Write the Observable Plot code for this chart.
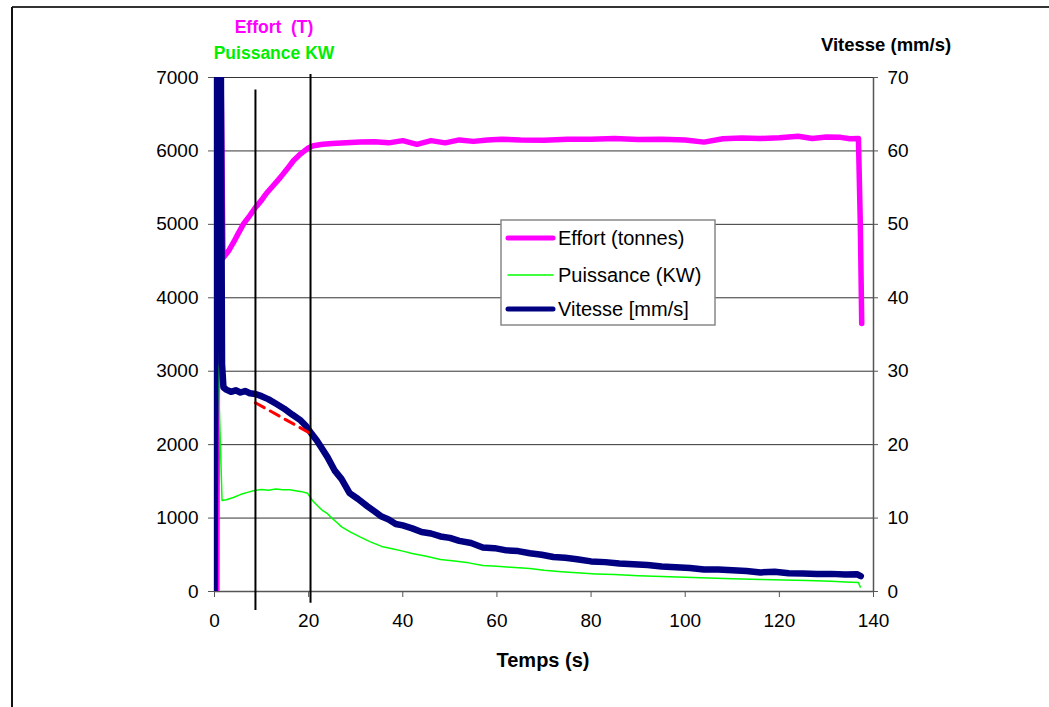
<!DOCTYPE html>
<html><head><meta charset="utf-8">
<script src="https://cdn.jsdelivr.net/npm/d3@7"></script>
<script src="https://cdn.jsdelivr.net/npm/@observablehq/plot@0.6"></script>
<style>
body{margin:0;background:#fff;}
#chart{width:1049px;height:707px;}
</style>
</head><body><div id="chart"></div>
<script>
// ---- tick labels ----
const timeTicks = [0, 20, 40, 60, 80, 100, 120, 140];
const leftTicks = [0, 1000, 2000, 3000, 4000, 5000, 6000, 7000];
const rightTickLabels = [0, 10, 20, 30, 40, 50, 60, 70];

// ---- Effort (tonnes), left axis ----
const effortT = [0.5, 0.8, 1.3, 1.8, 3, 4, 5, 6.2, 7.5, 8.7, 10, 11, 12.5, 14, 15.5, 16.8, 18.3, 19.8, 21, 23, 25, 28, 31, 34, 37, 40, 43, 46, 49, 52, 55, 58, 61, 65, 70, 75, 80, 85, 90, 95, 100, 104, 108, 112, 116, 120, 124, 127, 130, 133, 135, 136.8, 137.2, 137.5];
const effortV = [0, 7600, 7600, 4540, 4640, 4750, 4870, 5010, 5120, 5230, 5330, 5420, 5530, 5640, 5760, 5870, 5960, 6035, 6070, 6090, 6100, 6110, 6120, 6125, 6110, 6140, 6090, 6140, 6110, 6150, 6130, 6150, 6160, 6150, 6145, 6160, 6160, 6170, 6155, 6160, 6150, 6120, 6165, 6175, 6170, 6180, 6200, 6170, 6190, 6185, 6165, 6170, 5000, 3650];

// ---- Puissance (KW), left axis ----
const puisT = [0, 0.5, 0.75, 1.6, 2.5, 4, 5.5, 7, 8.5, 10, 11.5, 13, 14.5, 16, 17.5, 18.5, 19.8, 20.8, 22, 23, 24, 25, 26, 27, 29, 31, 33, 35.5, 38, 40, 42, 45, 48, 51, 54, 57, 60, 63, 67, 70, 73.7, 77, 81, 85, 90, 95, 100, 105, 110, 116, 121, 126, 131, 134, 136.8, 137.2];
const puisV = [0, 4600, 3100, 1240, 1250, 1280, 1320, 1350, 1375, 1390, 1380, 1395, 1385, 1385, 1370, 1360, 1337, 1240, 1160, 1100, 1060, 996, 940, 880, 805, 740, 680, 614, 580, 550, 518, 480, 436, 415, 390, 355, 345, 330, 314, 290, 270, 255, 240, 230, 215, 205, 195, 185, 175, 164, 155, 150, 140, 130, 123, 60];

// ---- Vitesse (mm/s), right axis ----
const vitT = [0, 0.5, 1.3, 1.6, 1.9, 2.5, 3.5, 4.5, 5.5, 6.5, 7.5, 8.7, 10, 11.4, 13, 14.8, 16.5, 18.3, 19.5, 20.6, 21.7, 22.8, 24, 25.5, 27, 28.7, 30.5, 32.5, 34, 35.5, 37, 38.5, 40, 42, 44, 46, 48, 50, 52, 54.5, 57, 59.5, 62, 64.5, 67, 69.5, 72, 74.5, 77, 80, 83, 86, 89, 92, 95, 98, 101, 104, 107, 110, 113, 116, 119, 122, 125, 128, 131, 134, 136.5, 137.3];
const vitV = [0, 80, 80, 31, 27.8, 27.5, 27.2, 27.4, 27.1, 27.3, 27.0, 26.9, 26.6, 26.2, 25.6, 24.9, 24.1, 23.3, 22.5, 21.5, 20.6, 19.5, 18.3, 16.5, 15.3, 13.4, 12.6, 11.6, 10.9, 10.2, 9.8, 9.2, 9.0, 8.6, 8.1, 7.9, 7.5, 7.3, 6.9, 6.6, 6.0, 5.9, 5.6, 5.5, 5.2, 5.0, 4.7, 4.6, 4.4, 4.1, 4.0, 3.8, 3.7, 3.6, 3.4, 3.3, 3.2, 3.0, 3.0, 2.9, 2.8, 2.6, 2.7, 2.5, 2.45, 2.4, 2.4, 2.3, 2.35, 2.1];

// ---- annotations (left-axis units) ----
const redT = [8.7, 20.2];
const redV = [2570, 2160];
const vlineT = [8.7, 20.4];
const vlineTop = [6830, 7040];
const vlineBottom = [-260, -160];

// secondary axis factor: 70 mm/s <-> 7000
const vScale = 100;

const effort = effortT.map((t, i) => ({t, v: effortV[i]}));
const puis = puisT.map((t, i) => ({t, v: puisV[i]}));
const vit = vitT.map((t, i) => ({t, v: vitV[i] * vScale}));
const red = redT.map((t, i) => ({t, v: redV[i]}));
const vlines = vlineT.map((t, i) => ({t, y1: vlineBottom[i], y2: vlineTop[i]}));

const svg = Plot.plot({
  width: 1049,
  height: 707,
  marginLeft: 214,
  marginRight: 176,
  marginTop: 77,
  marginBottom: 116,
  x: {domain: [0, 140]},
  y: {domain: [0, 7000]},
  style: {fontFamily: "'Liberation Sans', Arial, sans-serif", fontSize: "19px", color: "#000", background: "#fff", overflow: "visible"},
  marks: [
    Plot.ruleY(leftTicks.slice(1), {stroke: "#333", strokeWidth: 1}),
    Plot.ruleX([0, 140], {stroke: "#555", strokeWidth: 1.5}),
    Plot.ruleY([0], {stroke: "#555", strokeWidth: 1.5}),
    Plot.axisX({ticks: timeTicks, tickFormat: d => String(d), tickSize: 6, tickPadding: 16, label: null, stroke: "#555"}),
    Plot.axisY({anchor: "left", ticks: leftTicks, tickFormat: d => String(d), tickSize: 6, tickPadding: 10, label: null, stroke: "#555"}),
    Plot.axisY({anchor: "right", ticks: leftTicks, tickFormat: d => String(rightTickLabels[leftTicks.indexOf(d)]), tickSize: 4, tickPadding: 10, label: null, stroke: "#555"}),
    Plot.line(effort, {x: "t", y: "v", stroke: "#FF00FF", strokeWidth: 5.5, clip: true}),
    Plot.line(puis, {x: "t", y: "v", stroke: "#00FF00", strokeWidth: 1.5, clip: true}),
    Plot.line(vit, {x: "t", y: "v", stroke: "#000080", strokeWidth: 6.5, clip: true}),
    Plot.line(red, {x: "t", y: "v", stroke: "#FF0000", strokeWidth: 3, strokeDasharray: "10,7"}),
    Plot.ruleX(vlines, {x: "t", y1: "y1", y2: "y2", stroke: "#000", strokeWidth: 2})
  ]
});

const s = d3.select(svg);
// outer frame (top and left edges)
s.append("line").attr("x1", 12).attr("y1", 7).attr("x2", 1049).attr("y2", 7).attr("stroke", "#333").attr("stroke-width", 2);
s.append("line").attr("x1", 12).attr("y1", 7).attr("x2", 12).attr("y2", 707).attr("stroke", "#111").attr("stroke-width", 2);

// axis titles
const font = "'Liberation Sans', Arial, sans-serif";
s.append("text").attr("x", 274).attr("y", 33).attr("text-anchor", "middle").attr("font-family", font).attr("font-weight", "bold").attr("font-size", 17.5).attr("fill", "#FF00FF").attr("xml:space", "preserve").text("Effort  (T)");
s.append("text").attr("x", 274).attr("y", 59).attr("text-anchor", "middle").attr("font-family", font).attr("font-weight", "bold").attr("font-size", 17.5).attr("fill", "#00EE00").text("Puissance KW");
s.append("text").attr("x", 886).attr("y", 51).attr("text-anchor", "middle").attr("font-family", font).attr("font-weight", "bold").attr("font-size", 18.5).attr("fill", "#000").text("Vitesse (mm/s)");
s.append("text").attr("x", 543).attr("y", 667).attr("text-anchor", "middle").attr("font-family", font).attr("font-weight", "bold").attr("font-size", 20).attr("fill", "#000").text("Temps (s)");

// legend
const legendItems = [
  {label: "Effort (tonnes)", color: "#FF00FF", w: 5},
  {label: "Puissance (KW)", color: "#00FF00", w: 1.5},
  {label: "Vitesse [mm/s]", color: "#000080", w: 5}
];
const lg = s.append("g");
lg.append("rect").attr("x", 501).attr("y", 220).attr("width", 214).attr("height", 105).attr("fill", "#fff").attr("stroke", "#888").attr("stroke-width", 1.5);
const rowY = [238, 275, 309];
legendItems.forEach((d, i) => {
  lg.append("line").attr("x1", 508).attr("x2", 553).attr("y1", rowY[i]).attr("y2", rowY[i]).attr("stroke", d.color).attr("stroke-width", d.w).attr("stroke-linecap", "round");
  lg.append("text").attr("x", 558).attr("y", rowY[i]).attr("dy", "0.36em").attr("text-anchor", "start").attr("font-family", font).attr("font-size", 20).attr("fill", "#000").text(d.label);
});

document.getElementById("chart").appendChild(svg);
</script>
</body></html>
